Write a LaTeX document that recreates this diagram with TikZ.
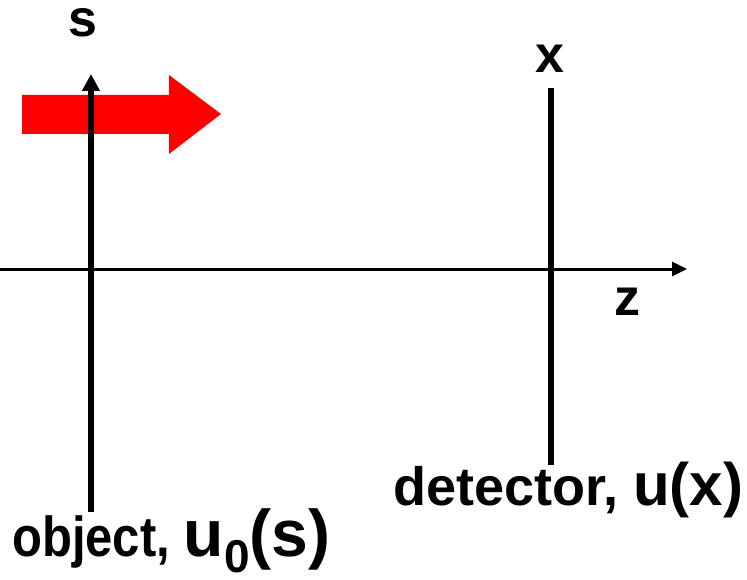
\documentclass[tikz,border=0pt]{standalone}
\usepackage{fontspec}
\setmainfont{Liberation Sans}
\usetikzlibrary{arrows.meta}
\begin{document}
\begin{tikzpicture}[x=1pt,y=-1pt,
  lbl/.style={inner sep=0pt,font=\fontsize{52}{56}\selectfont\bfseries},
  capt/.style={inner sep=0pt,anchor=base west},
  thick6/.style={line width=6pt},
  axisline/.style={line width=3pt}]
\useasboundingbox (0,0) rectangle (747,580);
% red arrow
\fill[red] (22,95) -- (169,95) -- (169,75) -- (221,114) -- (169,154) -- (169,134) -- (22,134) -- cycle;
% coordinates
\coordinate (obot) at (91,512);
\coordinate (otop) at (91,74);
\coordinate (zl) at (0,269);
\coordinate (zr) at (687,269);
\coordinate (dtop) at (551,88);
\coordinate (dbot) at (551,465);
% axes
\draw[axisline,-{Triangle[width=14pt,length=15pt]}] (zl) -- (zr);
\draw[thick6,-{Triangle[width=17pt,length=17pt]}] (obot) -- (otop);
\draw[thick6] (dtop) -- (dbot);
% labels
\node[lbl] (s) at (83,23) {s};
\node[lbl] (x) at (550,59) {x};
\node[lbl] (z) at (627,302) {z};
\node[capt] (obj) at (12,556) {\bfseries\fontsize{49}{52}\selectfont \scalebox{1}[1.15]{object,} {\fontsize{66}{68}\selectfont u\raisebox{-16pt}{\fontsize{46}{48}\selectfont 0}(s)}};
\node[capt] (det) at (393,505) {\bfseries\fontsize{54}{56}\selectfont detector, {\fontsize{60}{62}\selectfont u(x)}};
\end{tikzpicture}
\end{document}
